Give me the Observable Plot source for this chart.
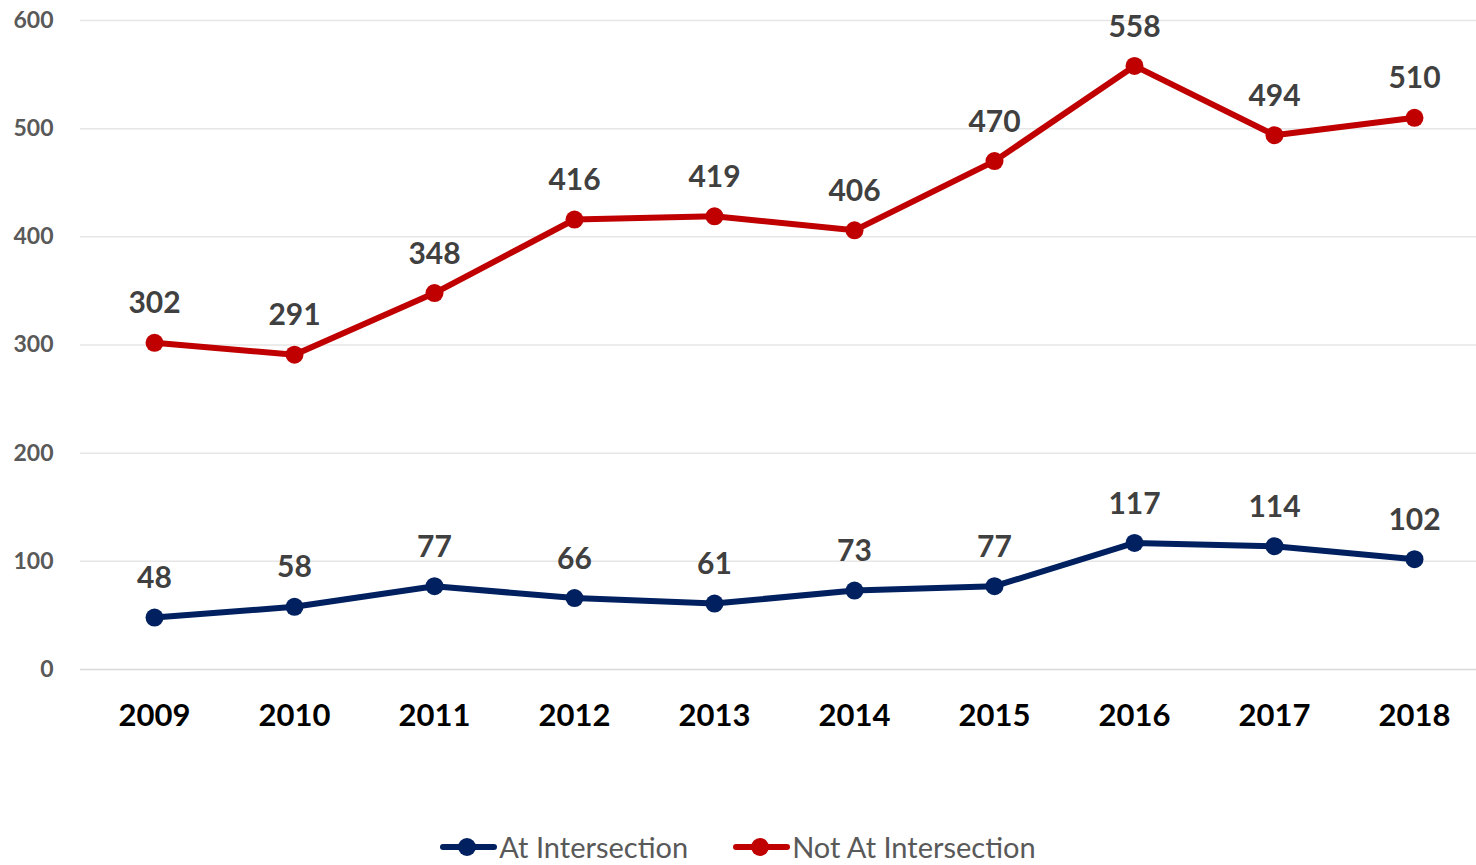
<!DOCTYPE html>
<html>
<head>
<meta charset="utf-8">
<script src="https://cdn.jsdelivr.net/npm/d3@7"></script>
<script src="https://cdn.jsdelivr.net/npm/@observablehq/plot@0.6"></script>
<style>
  html, body { margin: 0; padding: 0; background: #fff; overflow: hidden; }
  #chart { width: 1476px; height: 745px; }
  #legend { display: flex; justify-content: center; gap: 45px; margin-top: 85px; font-family: Lato, "Open Sans", sans-serif; font-size: 29px; color: #595959; line-height: 34px; height: 34px; }
  .item { display: flex; align-items: center; }
  .sw { position: relative; width: 57px; height: 20px; margin-right: 2px; }
  .sw .ln { position: absolute; left: 0; right: 0; top: 7px; height: 6px; border-radius: 3px; }
  .sw .dt { position: absolute; left: 18px; top: 1px; width: 18px; height: 18px; border-radius: 50%; }
</style>
</head>
<body>
<div id="chart"></div>
<div id="legend"></div>
<script>
const years = ["2009","2010","2011","2012","2013","2014","2015","2016","2017","2018"];
const atIntersection = [48, 58, 77, 66, 61, 73, 77, 117, 114, 102];
const notAtIntersection = [302, 291, 348, 416, 419, 406, 470, 558, 494, 510];
const seriesNames = ["At Intersection", "Not At Intersection"];
const seriesColors = ["#002060", "#C00000"];
const yTicks = [0, 100, 200, 300, 400, 500, 600];

const data = [];
years.forEach((y, i) => {
  data.push({year: y, value: atIntersection[i], series: seriesNames[0]});
  data.push({year: y, value: notAtIntersection[i], series: seriesNames[1]});
});

const plot = Plot.plot({
  width: 1476,
  height: 745,
  marginLeft: 80,
  marginRight: 0,
  marginTop: 20,
  marginBottom: 76,
  style: {fontFamily: "Lato, 'Open Sans', sans-serif", background: "#fff", display: "block"},
  x: {type: "point", domain: years, range: [150, 1418], padding: 0, label: null},
  y: {domain: [0, 600], ticks: yTicks, label: null},
  color: {domain: seriesNames, range: seriesColors},
  marks: [
    Plot.gridY(yTicks.filter(d => d > 0), {stroke: "#e6e6e6", strokeOpacity: 1, strokeWidth: 1.5}),
    Plot.ruleY([0], {stroke: "#d9d9d9", strokeWidth: 1.5}),
    Plot.axisY({ticks: yTicks, tickSize: 0, tickPadding: 27, fontSize: 23, fontWeight: "bold", fill: "#595959", label: null}),
    Plot.axisX({tickSize: 0, tickPadding: 34, fontSize: 31, fontWeight: "bold", fill: "#000", label: null}),
    Plot.line(data, {x: "year", y: "value", z: "series", stroke: "series", strokeWidth: 6, strokeLinejoin: "round"}),
    Plot.dot(data, {x: "year", y: "value", fill: "series", r: 9}),
    Plot.text(data, {x: "year", y: "value", text: d => String(d.value), dy: -39, fontSize: 30, fontWeight: "bold", fill: "#404040"})
  ]
});
document.getElementById("chart").appendChild(plot);

const legend = document.getElementById("legend");
seriesNames.forEach((name, i) => {
  const item = document.createElement("div");
  item.className = "item";
  item.innerHTML = `<span class="sw"><span class="ln" style="background:${seriesColors[i]}"></span><span class="dt" style="background:${seriesColors[i]}"></span></span><span>${name}</span>`;
  legend.appendChild(item);
});
</script>
</body>
</html>
